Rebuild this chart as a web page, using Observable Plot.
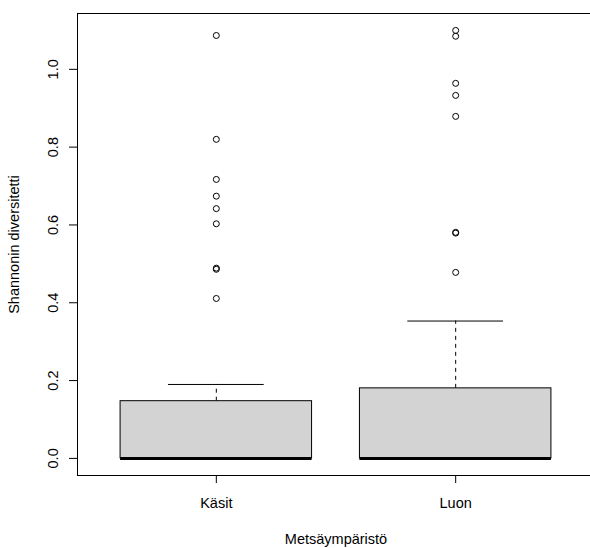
<!DOCTYPE html>
<html>
<head>
<meta charset="utf-8">
<script src="https://cdn.jsdelivr.net/npm/d3@7"></script>
<script src="https://cdn.jsdelivr.net/npm/@observablehq/plot@0.6"></script>
<style>
  html, body { margin: 0; padding: 0; background: #fff; }
  #chart svg { display: block; }
</style>
</head>
<body>
<div id="chart"></div>
<script>
// Data
const categories = ["Käsit", "Luon"];
const q1 = [0, 0];
const median = [0, 0];
const q3 = [0.147, 0.180];
const whiskerLow = [0, 0];
const whiskerHigh = [0.190, 0.353];
const outliersKasit = [1.087, 0.820, 0.717, 0.674, 0.642, 0.603, 0.489, 0.486, 0.411];
const outliersLuon = [1.100, 1.085, 0.964, 0.933, 0.879, 0.581, 0.579, 0.478];
const yTicks = [0, 0.2, 0.4, 0.6, 0.8, 1.0];
const xLabel = "Metsäympäristö";
const yLabel = "Shannonin diversitetti";

const boxes = categories.map((c, i) => ({
  pos: i + 1, cat: c, q1: q1[i], median: median[i], q3: q3[i],
  lo: whiskerLow[i], hi: whiskerHigh[i]
}));
const outliers = [
  ...outliersKasit.map(v => ({pos: 1, value: v})),
  ...outliersLuon.map(v => ({pos: 2, value: v}))
];

const font = "'Liberation Sans', Arial, sans-serif";
const fs = 14.5;

const chart = Plot.plot({
  width: 590,
  height: 548,
  marginLeft: 77,
  marginRight: -4,
  marginTop: 13,
  marginBottom: 73,
  style: {fontFamily: font, fontSize: fs + "px", color: "#000", background: "#fff"},
  x: {domain: [0.42, 2.58]},
  y: {domain: [-0.044, 1.1435]},
  marks: [
    Plot.frame({stroke: "#000", strokeWidth: 1}),
    // whiskers (dashed)
    Plot.ruleX(boxes, {x: "pos", y1: "q3", y2: "hi", stroke: "#000", strokeDasharray: "4,4"}),
    Plot.ruleX(boxes, {x: "pos", y1: "lo", y2: "q1", stroke: "#000", strokeDasharray: "4,4"}),
    // whisker caps
    Plot.ruleY(boxes, {y: "hi", x1: d => d.pos - 0.2, x2: d => d.pos + 0.2, stroke: "#000"}),
    Plot.ruleY(boxes, {y: "lo", x1: d => d.pos - 0.2, x2: d => d.pos + 0.2, stroke: "#000"}),
    // boxes
    Plot.rect(boxes, {x1: d => d.pos - 0.4, x2: d => d.pos + 0.4, y1: "q1", y2: "q3", fill: "#D3D3D3", stroke: "#000", strokeWidth: 1}),
    // medians
    Plot.ruleY(boxes, {y: "median", x1: d => d.pos - 0.4, x2: d => d.pos + 0.4, stroke: "#000", strokeWidth: 3}),
    // outliers
    Plot.dot(outliers, {x: "pos", y: "value", r: 3, stroke: "#000", fill: "none", strokeWidth: 1}),
    // axes
    Plot.axisY({
      ticks: yTicks, tickSize: 8, tickRotate: -90, tickPadding: 12,
      tickFormat: d3.format(".1f"), label: null, fontSize: fs
    }),
    Plot.axisX({
      ticks: [1, 2], tickSize: 8, tickPadding: 14,
      tickFormat: d => categories[d - 1], label: null, fontSize: fs
    }),
    // axis titles
    Plot.text([yLabel], {frameAnchor: "left", dx: -63, rotate: -90, textAnchor: "middle", lineAnchor: "middle", text: d => d, fontSize: fs, fill: "#000"}),
    Plot.text([xLabel], {frameAnchor: "bottom", dy: 64, textAnchor: "middle", lineAnchor: "middle", text: d => d, fontSize: fs, fill: "#000"})
  ]
});
document.getElementById("chart").appendChild(chart);
</script>
</body>
</html>
